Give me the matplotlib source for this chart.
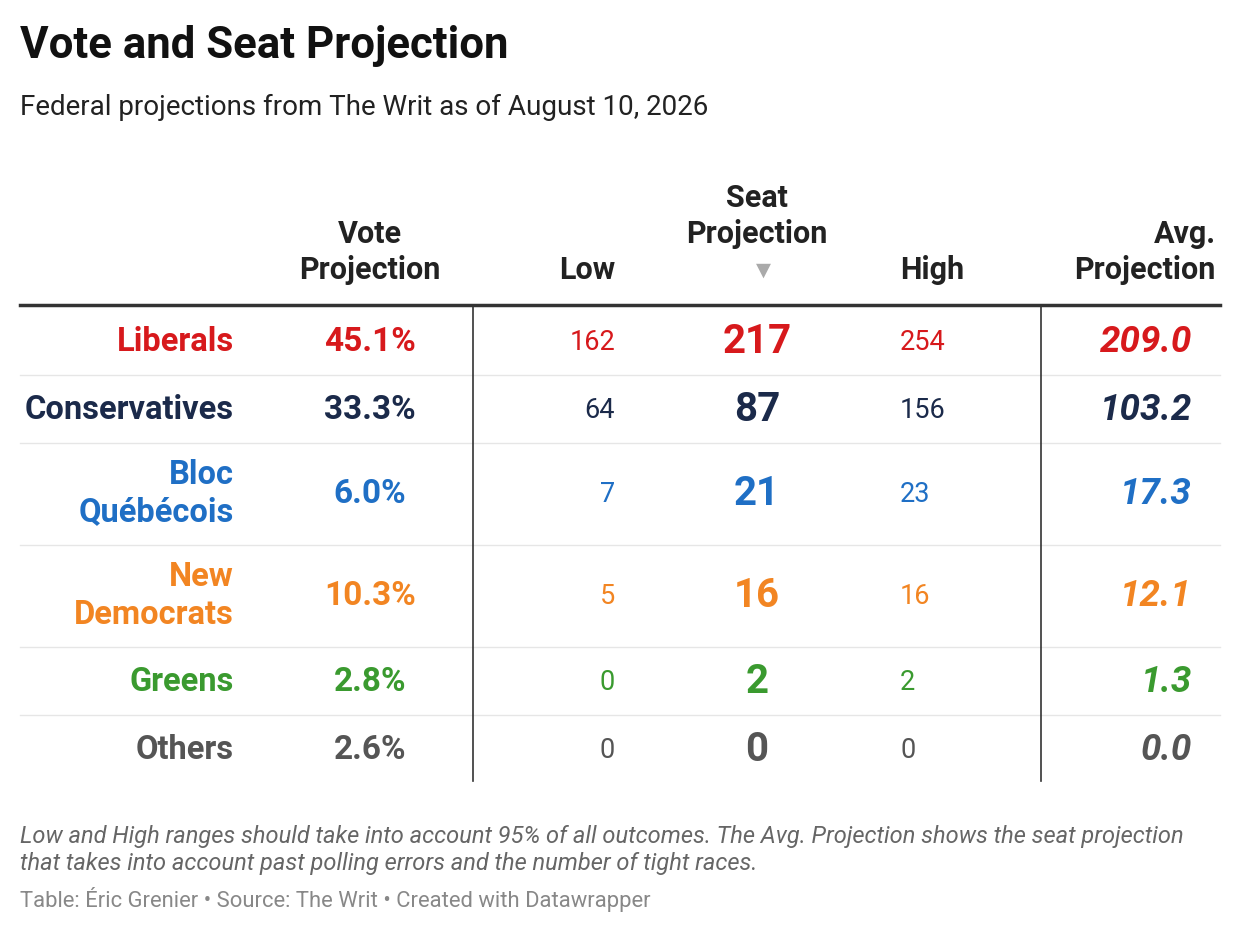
import matplotlib.pyplot as plt
from matplotlib.lines import Line2D

plt.rcParams['font.family'] = ['Roboto', 'DejaVu Sans']

parties = ["Liberals", "Conservatives", "Bloc\nQuébécois", "New\nDemocrats", "Greens", "Others"]
vote = ["45.1%", "33.3%", "6.0%", "10.3%", "2.8%", "2.6%"]
low = ["162", "64", "7", "5", "0", "0"]
seat = ["217", "87", "21", "16", "2", "0"]
high = ["254", "156", "23", "16", "2", "0"]
avg = ["209.0", "103.2", "17.3", "12.1", "1.3", "0.0"]
colors = ["#d7191c", "#1b2a4a", "#1f6fc5", "#f28522", "#3a9a2f", "#555555"]

row_y = [342, 410, 494, 596, 682, 750]
row_sep = [375, 443, 545, 647, 715]

fig = plt.figure(figsize=(12.4, 9.34), dpi=100)
ax = fig.add_axes([0, 0, 1, 1])
ax.set_xlim(0, 1240)
ax.set_ylim(934, 0)
ax.axis("off")

ax.text(20, 46, "Vote and Seat Projection", fontsize=31.5, fontweight="bold", va="center", color="#111111")
ax.text(20, 107, "Federal projections from The Writ as of August 10, 2026", fontsize=20, va="center", color="#222222")

hk = dict(fontsize=22, fontweight="bold", color="#222222", va="center", linespacing=1.25)
ax.text(370, 252, "Vote\nProjection", ha="center", **hk)
ax.text(615, 270, "Low", ha="right", **hk)
ax.text(757, 216, "Seat\nProjection", ha="center", **hk)
ax.text(763, 270, "▼", ha="center", va="center", fontsize=14, color="#aaaaaa", family="DejaVu Sans")
ax.text(900, 270, "High", ha="left", **hk)
ax.text(1216, 252, "Avg.\nProjection", ha="right", **hk)

ax.add_line(Line2D([20, 1220], [305, 305], color="#333333", lw=2.5))
for y in row_sep:
    ax.add_line(Line2D([20, 1220], [y, y], color="#e6e6e6", lw=1))
for x in [473, 1041]:
    ax.add_line(Line2D([x, x], [307, 781], color="#333333", lw=1.2))

for i, y in enumerate(row_y):
    c = colors[i]
    ax.text(234, y, parties[i], ha="right", va="center", fontsize=23.5, fontweight="bold", color=c, linespacing=1.2)
    ax.text(370, y, vote[i], ha="center", va="center", fontsize=24, fontweight="bold", color=c)
    ax.text(615, y, low[i], ha="right", va="center", fontsize=19.5, color=c)
    ax.text(757, y, seat[i], ha="center", va="center", fontsize=29, fontweight="bold", color=c)
    ax.text(900, y, high[i], ha="left", va="center", fontsize=19.5, color=c)
    ax.text(1192, y, avg[i], ha="right", va="center", fontsize=26.5, fontweight="bold", style="italic", color=c)

ax.text(20, 850, "Low and High ranges should take into account 95% of all outcomes. The Avg. Projection shows the seat projection\n"
        "that takes into account past polling errors and the number of tight races.",
        fontsize=17, style="italic", color="#666666", va="center", linespacing=1.25)
ax.text(20, 900, "Table: Éric Grenier • Source: The Writ • Created with Datawrapper", fontsize=15.8, color="#888888", va="center")

fig.savefig("out.png", dpi=100)
